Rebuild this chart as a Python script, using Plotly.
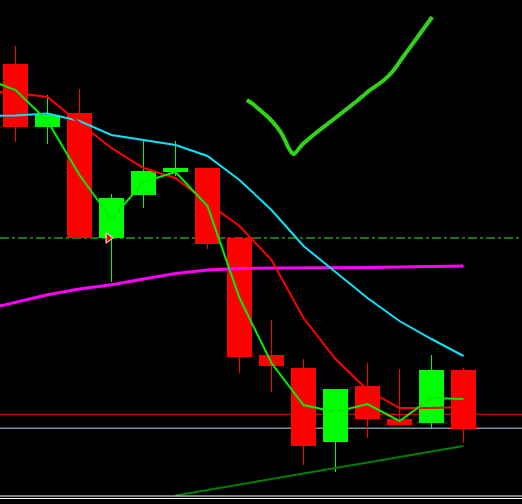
import plotly.graph_objects as go

# ---------------- data (price units; higher = up) ----------------
bars = list(range(15))
opens  = [440, 377, 391, 266, 309, 332, 336, 266, 149, 136, 62, 118, 85, 81, 134]
highs  = [458, 409, 415, 310, 363, 363, 336, 267, 184, 145, 115, 141, 135, 149, 136]
lows   = [362, 360, 266, 222, 296, 328, 255, 131, 112, 39, 32, 66, 79, 76, 61]
closes = [377, 389, 266, 306, 333, 336, 260, 147, 138, 58, 115, 85, 79, 134, 75]

ma_x = list(range(-1, 15))
ma_fast = [426, 414, 383, 329, 285, 322, 332, 298, 206, 141, 99, 92, 100, 83, 106, 105]
ma_mid  = [413, 411, 407, 381, 356, 336, 326, 301, 278, 244, 186, 145, 114, 96, 96, 97]
ma_slow = [388, 388.5, 390.5, 383, 369, 364, 359, 348, 324, 294, 258, 232, 206, 183, 165, 148]
ma_long = [194, 201.7, 209.3, 215, 219.2, 225, 230.5, 234, 235.5, 236, 236, 236, 236.5, 237, 237.5, 238]

level_dashed = 266
level_red = 89.7
level_grey = 75.7
separator_levels = [8, 5.5]

trend_x = [5, 14]
trend_y = [8.5, 58]

arrow_x = [2.9]
arrow_y = [266]

check_x = [7.23, 7.42, 7.64, 7.95, 8.17, 8.36, 8.52, 8.64, 8.70, 8.80, 8.95, 9.20,
           9.42, 9.83, 10.23, 10.67, 11.08, 11.48, 11.80, 12.11, 12.52, 13.02]
check_y = [404, 400, 394, 385, 377, 368, 357, 351, 350, 353, 359, 366,
           372, 382, 392, 403, 414, 423, 433, 447, 465, 487]

RED = "#ff0000"
GREEN = "#00ff00"

fig = go.Figure()

# horizontal levels (below the candles)
shapes = [
    dict(type="line", xref="paper", x0=0, x1=1, yref="y", y0=level_dashed, y1=level_dashed,
         line=dict(color="#33e633", width=1, dash="dashdot"), layer="below"),
    dict(type="line", xref="paper", x0=0, x1=1, yref="y", y0=level_red, y1=level_red,
         line=dict(color=RED, width=1), layer="below"),
    dict(type="line", xref="paper", x0=0, x1=1, yref="y", y0=level_grey, y1=level_grey,
         line=dict(color="#8090a0", width=1.5), layer="below"),
]
for lv in separator_levels:
    shapes.append(dict(type="line", xref="paper", x0=0, x1=1, yref="y", y0=lv, y1=lv,
                       line=dict(color="#ffffff", width=1), layer="above"))

# wicks
for col, cond in ((RED, lambda o, c: c < o), (GREEN, lambda o, c: c >= o)):
    wx, wy = [], []
    for i, o, h, l, c in zip(bars, opens, highs, lows, closes):
        if cond(o, c):
            wx += [i, i, None]
            wy += [l, h, None]
    fig.add_trace(go.Scatter(x=wx, y=wy, mode="lines", line=dict(color=col, width=1),
                             hoverinfo="skip", showlegend=False))

# bodies
base = [min(o, c) for o, c in zip(opens, closes)]
height = [max(abs(c - o), 1.5) for o, c in zip(opens, closes)]
colors = [GREEN if c >= o else RED for o, c in zip(opens, closes)]
fig.add_trace(go.Bar(x=bars, y=height, base=base, width=0.78,
                     marker=dict(color=colors, line=dict(width=0)), showlegend=False))

# moving averages
fig.add_trace(go.Scatter(x=ma_x, y=ma_long, mode="lines", line=dict(color="#ff00ff", width=3),
                         showlegend=False))
fig.add_trace(go.Scatter(x=ma_x, y=ma_slow, mode="lines", line=dict(color="#10e0f8", width=2),
                         showlegend=False))
fig.add_trace(go.Scatter(x=ma_x, y=ma_mid, mode="lines", line=dict(color=RED, width=2),
                         showlegend=False))
fig.add_trace(go.Scatter(x=ma_x, y=ma_fast, mode="lines", line=dict(color="#00f000", width=2),
                         showlegend=False))

# trend line
fig.add_trace(go.Scatter(x=trend_x, y=trend_y, mode="lines", line=dict(color="#008000", width=2),
                         showlegend=False))

# trade arrow
fig.add_trace(go.Scatter(x=arrow_x, y=arrow_y, mode="markers",
                         marker=dict(symbol="triangle-right", size=9, color=RED,
                                     line=dict(color="#ffffff", width=1)),
                         showlegend=False))

# hand-drawn check mark
fig.add_trace(go.Scatter(x=check_x, y=check_y, mode="lines",
                         line=dict(color="#33d21a", width=4, shape="spline", smoothing=0.6),
                         showlegend=False))

fig.update_layout(
    width=522, height=504,
    margin=dict(l=0, r=0, t=0, b=0),
    paper_bgcolor="#000000", plot_bgcolor="#000000",
    shapes=shapes,
    bargap=0,
    xaxis=dict(range=[-0.484375, 15.828125], visible=False, fixedrange=True),
    yaxis=dict(range=[0, 504], visible=False, fixedrange=True),
    showlegend=False,
)

fig.write_html("out.html")
